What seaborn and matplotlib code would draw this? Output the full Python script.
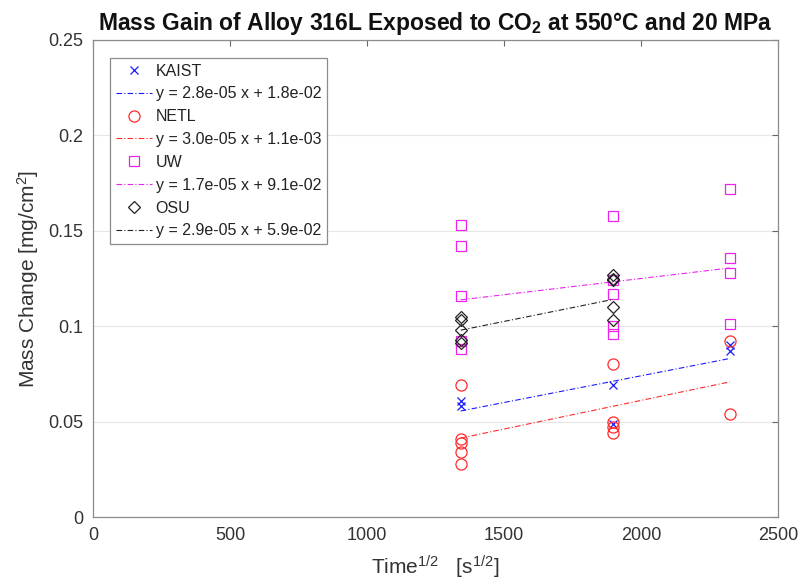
import numpy as np
import pandas as pd
import matplotlib
matplotlib.use("Agg")
import matplotlib.pyplot as plt
import seaborn as sns

# ---- data ----
groups = ["KAIST", "NETL", "UW", "OSU"]
t500, t1000, t1500 = 1342, 1897, 2324

kaist_x = [t500, t500, t1000, t1000, t1500, t1500]
kaist_y = [0.061, 0.058, 0.069, 0.049, 0.090, 0.087]

netl_x = [t500] * 5 + [t1000] * 4 + [t1500] * 2
netl_y = [0.069, 0.041, 0.039, 0.034, 0.028, 0.080, 0.050, 0.047, 0.044, 0.092, 0.054]

uw_x = [t500] * 5 + [t1000] * 5 + [t1500] * 4
uw_y = [0.153, 0.142, 0.116, 0.092, 0.088, 0.158, 0.124, 0.117, 0.100, 0.096,
        0.172, 0.136, 0.128, 0.101]

osu_x = [t500] * 5 + [t1000] * 5
osu_y = [0.105, 0.103, 0.098, 0.093, 0.091, 0.127, 0.125, 0.124, 0.110, 0.103]

slopes = [2.8e-05, 3.0e-05, 1.7e-05, 2.9e-05]
intercepts = [1.8e-02, 1.1e-03, 9.1e-02, 5.9e-02]
fit_labels = ["y = 2.8e-05 x + 1.8e-02", "y = 3.0e-05 x + 1.1e-03",
              "y = 1.7e-05 x + 9.1e-02", "y = 2.9e-05 x + 5.9e-02"]

xticks = [0, 500, 1000, 1500, 2000, 2500]
yticks = [0, 0.05, 0.1, 0.15, 0.2, 0.25]
ytick_labels = ["0", "0.05", "0.1", "0.15", "0.2", "0.25"]

# ---- style ----
sns.set_style("white")
plt.rcParams["font.family"] = ["Liberation Sans", "DejaVu Sans"]
plt.rcParams["mathtext.fontset"] = "custom"
plt.rcParams["mathtext.rm"] = "Liberation Sans"
plt.rcParams["mathtext.it"] = "Liberation Sans:italic"
plt.rcParams["mathtext.bf"] = "Liberation Sans:bold"
plt.rcParams["mathtext.default"] = "regular"

colors = ["#1a1aff", "#ff2a2a", "#ee22ee", "#222222"]
markers = ["x", "o", "s", "D"]
msizes = [6, 8, 7, 6.5]
xs = [kaist_x, netl_x, uw_x, osu_x]
ys = [kaist_y, netl_y, uw_y, osu_y]

fig = plt.figure(figsize=(7.99, 5.83), dpi=100)
ax = fig.add_axes([93 / 799, 1 - 517 / 583, 685 / 799, 477 / 583])

for g, x, y, c, m, ms, k, b, fl in zip(groups, xs, ys, colors, markers, msizes,
                                       slopes, intercepts, fit_labels):
    df = pd.DataFrame({"x": x, "y": y})
    sns.lineplot(data=df, x="x", y="y", estimator=None, sort=False, ax=ax,
                 linestyle="none", marker=m, markersize=ms, color=c,
                 markerfacecolor="none", markeredgecolor=c,
                 markeredgewidth=0.9, label=g)
    xf = np.array([min(x), max(x)])
    dfl = pd.DataFrame({"x": xf, "y": k * xf + b})
    sns.lineplot(data=dfl, x="x", y="y", estimator=None, sort=False, ax=ax,
                 color=c, linewidth=0.8, linestyle=(0, (5, 2, 1, 2)), label=fl)

h_all, l_all = ax.get_legend_handles_labels()
hmap = dict(zip(l_all, h_all))
order = []
for g, fl in zip(groups, fit_labels):
    order += [g, fl]
handles = [hmap[l] for l in order]

ax.set_xlim(0, 2500)
ax.set_ylim(0, 0.25)
ax.set_xticks(xticks)
ax.set_yticks(yticks)
ax.set_yticklabels(ytick_labels)
ax.yaxis.grid(True, color="#e6e6e6", linewidth=0.8)
ax.xaxis.grid(False)
ax.set_axisbelow(True)
ax.tick_params(direction="in", top=True, right=True, length=4, width=0.8,
               color="#666666", labelsize=13, labelcolor="#333333", pad=7)
for s in ax.spines.values():
    s.set_color("#8c8c8c")
    s.set_linewidth(0.9)

ax.set_xlabel("Time$^{1/2}$   [s$^{1/2}$]", fontsize=15, color="#333333", labelpad=7)
ax.set_ylabel("Mass Change [mg/cm$^2$]", fontsize=15, color="#333333", labelpad=5)
ax.set_title("Mass Gain of Alloy 316L Exposed to CO$_\\mathbf{2}$ at 550°C and 20 MPa",
             fontsize=16.5, fontweight="bold", color="#111111", pad=7)

leg = ax.legend(handles, order, loc="upper left",
                bbox_to_anchor=(17 / 685, 1 - 18 / 477), borderaxespad=0,
                fontsize=11.5, frameon=True, fancybox=False, framealpha=1,
                edgecolor="#8c8c8c", handlelength=2.3, labelspacing=0.49,
                handletextpad=0.2, borderpad=0.35)
leg.get_frame().set_linewidth(0.9)
for t in leg.get_texts():
    t.set_color("#222222")

fig.savefig("out.png", dpi=100, facecolor="white")
